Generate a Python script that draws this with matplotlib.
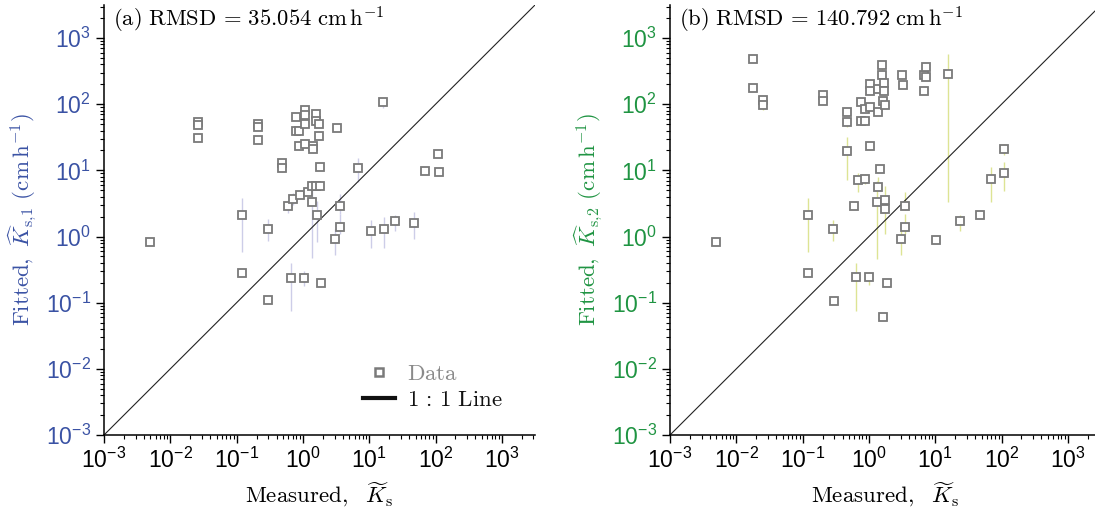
import numpy as np
import matplotlib
matplotlib.use("Agg")
import matplotlib.pyplot as plt
from matplotlib.ticker import FixedLocator, LogLocator, FuncFormatter, NullFormatter
from matplotlib.lines import Line2D

# ---------------- data: panel (a) ----------------
measured_a = [0.0049, 0.026, 0.026, 0.026, 0.121, 0.121, 0.207, 0.207, 0.207, 0.30,
              0.30, 0.49, 0.49, 0.60, 0.66, 0.70, 0.78, 0.78, 0.88, 0.88,
              0.90, 1.03, 1.07, 1.07, 1.07, 1.07, 1.20, 1.35, 1.35, 1.40,
              1.40, 1.57, 1.57, 1.57, 1.64, 1.76, 1.76, 1.80, 1.80, 1.89,
              3.07, 3.29, 3.61, 3.61, 6.8, 10.7, 15.9, 16.8, 24.4, 47.7,
              70.0, 110.0, 111.0]
fitted_a = [0.83, 54, 48, 31, 2.15, 0.285, 50, 46, 28.6, 1.32,
            0.11, 12.9, 10.9, 2.9, 0.24, 3.7, 65, 39, 39, 23,
            4.3, 0.24, 83, 68, 51, 25, 4.7, 5.9, 3.35, 23.6,
            21.4, 72, 56, 5.9, 2.1, 51, 33, 11.1, 5.9, 0.20,
            0.91, 44, 2.9, 1.40, 10.7, 1.22, 107, 1.32, 1.70, 1.59,
            9.9, 17.7, 9.3]
lower_a = [0.80, 50, 45, 29, 0.59, 0.27, 47, 43, 27, 0.85,
           0.105, 11, 9.5, 2.3, 0.076, 3.0, 60, 36, 36, 20,
           3.8, 0.18, 76, 63, 47, 23, 4.2, 5.2, 0.48, 20,
           18, 66, 52, 5.4, 0.83, 47, 30, 10, 5.3, 0.19,
           0.52, 41, 2.2, 1.11, 6.7, 0.68, 87, 0.68, 1.20, 0.91,
           9.3, 16.5, 8.7]
upper_a = [0.87, 58, 51, 33, 3.8, 0.30, 53, 49, 30, 1.81,
           0.115, 15, 12.5, 3.6, 0.40, 4.6, 70, 42, 42, 27,
           4.9, 0.30, 90, 74, 55, 27, 5.3, 6.6, 6.7, 28,
           24, 78, 61, 6.4, 3.4, 55, 36, 12.3, 6.5, 0.21,
           1.32, 47, 4.4, 2.2, 15.6, 1.77, 126, 1.94, 2.15, 2.31,
           10.5, 19, 10]

# ---------------- data: panel (b) ----------------
measured_b = [0.0049, 0.0176, 0.0176, 0.0255, 0.0255, 0.120, 0.121, 0.200, 0.200, 0.292,
              0.300, 0.474, 0.474, 0.474, 0.59, 0.643, 0.687, 0.757, 0.757, 0.879,
              0.879, 0.879, 1.035, 1.035, 1.035, 1.035, 1.01, 1.35, 1.33, 1.367,
              1.367, 1.48, 1.555, 1.555, 1.61, 1.61, 1.70, 1.70, 1.74, 1.76,
              1.76, 1.85, 3.04, 3.18, 3.26, 3.53, 3.53, 6.68, 6.68, 7.29,
              7.29, 10.4, 15.7, 23.8, 46.6, 69.2, 109.0, 110.0]
fitted_b = [0.84, 486, 173, 116, 98, 2.15, 0.285, 138, 110, 1.32,
            0.105, 76, 53, 19.4, 2.92, 0.245, 7.1, 107, 55, 85,
            55, 7.5, 205, 159, 92, 23.7, 0.245, 5.6, 3.37, 171,
            76, 10.6, 386, 272, 110, 0.061, 210, 161, 98, 3.57,
            2.57, 0.199, 0.91, 272, 192, 2.85, 1.39, 278, 161, 361,
            255, 0.88, 285, 1.71, 2.08, 7.3, 21.0, 9.2]
lower_b = [0.81, 440, 160, 108, 82, 0.59, 0.27, 130, 103, 0.85,
           0.10, 71, 45, 7.1, 2.75, 0.076, 4.75, 100, 51, 75,
           51, 6.2, 180, 140, 86, 20, 0.183, 5.0, 0.46, 160,
           68, 10, 330, 255, 103, 0.058, 196, 150, 92, 3.0,
           1.11, 0.19, 0.52, 240, 180, 2.5, 1.11, 260, 150, 320,
           230, 0.84, 3.36, 1.20, 1.95, 3.36, 17, 4.85]
upper_b = [0.87, 530, 186, 124, 118, 3.8, 0.30, 146, 117, 1.77,
           0.11, 81, 62, 31.6, 3.1, 0.40, 9.2, 114, 59, 96,
           59, 8.8, 232, 180, 98, 28, 0.29, 8.0, 6.8, 182,
           85, 11.3, 440, 290, 117, 0.064, 225, 172, 104, 5.85,
           3.0, 0.21, 1.32, 305, 205, 4.64, 2.2, 297, 172, 400,
           280, 0.92, 573, 2.15, 2.2, 11.3, 25, 13.5]

titles = [r"$\mathrm{(a)\ RMSD}\,=\,35.054\ \mathrm{cm\,h^{-1}}$",
          r"$\mathrm{(b)\ RMSD}\,=\,140.792\ \mathrm{cm\,h^{-1}}$"]
ylabels = [r"$\mathrm{Fitted,}\ \widehat{K}_{\mathrm{s},\!1}\ (\mathrm{cm\,h}^{-1})$",
           r"$\mathrm{Fitted,}\ \widehat{K}_{\mathrm{s},\!2}\ (\mathrm{cm\,h}^{-1})$"]
xlabel = r"$\mathrm{Measured,}\ \ \widetilde{K}_\mathrm{s}$"
legend_labels = [r"$\mathrm{Data}$", r"$1\,:\,1\ \mathrm{Line}$"]
major_exps = [-3, -2, -1, 0, 1, 2, 3]

axis_colors = ["#3a52a4", "#1f9442"]
err_colors = ["#cdcde8", "#dde494"]
marker_color = "#7a7a7a"

plt.rcParams["axes.unicode_minus"] = False

fig = plt.figure(figsize=(10.95, 5.13), dpi=100)
ax_a = fig.add_axes([104 / 1095, 78 / 513, 431 / 1095, 430 / 513])
ax_b = fig.add_axes([670 / 1095, 78 / 513, 431 / 1095, 430 / 513])

lo, hi = 1e-3, 10 ** 3.5

def fmt(v, pos):
    e = int(round(np.log10(v)))
    return r"$\mathregular{10^{%d}}$" % e

panels = [(ax_a, measured_a, fitted_a, lower_a, upper_a),
          (ax_b, measured_b, fitted_b, lower_b, upper_b)]

for i, (ax, mx, fy, ly, uy) in enumerate(panels):
    ax.set_xscale("log")
    ax.set_yscale("log")
    ax.set_xlim(lo, hi)
    ax.set_ylim(lo, hi)
    ax.vlines(mx, ly, uy, colors=err_colors[i], linewidth=1.0, zorder=1)
    ax.plot([lo, hi], [lo, hi], color="#222222", linewidth=0.8, zorder=2)
    ax.plot(mx, fy, linestyle="none", marker="s", markersize=5.6,
            markerfacecolor="white", markeredgecolor=marker_color,
            markeredgewidth=1.3, zorder=3)
    for sp in ["top", "right"]:
        ax.spines[sp].set_visible(False)
    for sp in ["left", "bottom"]:
        ax.spines[sp].set_linewidth(1.1)
    majors = [10.0 ** e for e in major_exps]
    for axis in (ax.xaxis, ax.yaxis):
        axis.set_major_locator(FixedLocator(majors))
        axis.set_minor_locator(LogLocator(base=10, subs=np.arange(2, 10), numticks=20))
        axis.set_major_formatter(FuncFormatter(fmt))
        axis.set_minor_formatter(NullFormatter())
    ax.tick_params(which="major", direction="out", length=5.5, width=1.0, pad=4,
                   labelsize=16.5)
    ax.tick_params(which="minor", direction="out", length=3, width=0.8)
    ax.tick_params(axis="y", colors="black", labelcolor=axis_colors[i])
    for lab in ax.get_xticklabels() + ax.get_yticklabels():
        lab.set_family("Liberation Sans")
    ax.set_xlabel(xlabel, fontsize=16.5, math_fontfamily="cm")
    ax.set_ylabel(ylabels[i], fontsize=16.5, color=axis_colors[i], math_fontfamily="cm")
    ax.xaxis.set_label_coords(0.5, -0.105)
    ax.yaxis.set_label_coords(-0.15, 0.5)
    ax.text(0.02, 0.965, titles[i], transform=ax.transAxes, fontsize=16.3,
            ha="left", va="center", math_fontfamily="cm")

handles = [Line2D([], [], linestyle="none", marker="s", markersize=5.6,
                  markerfacecolor="white", markeredgecolor=marker_color,
                  markeredgewidth=1.8),
           Line2D([], [], color="#111111", linewidth=3)]
leg = ax_a.legend(handles, legend_labels,
                  loc="upper left", bbox_to_anchor=(0.58, 0.19), frameon=False,
                  fontsize=16.5, handlelength=1.4, handletextpad=0.5,
                  labelspacing=0.1, borderaxespad=0)
for t, c in zip(leg.get_texts(), ["#8a8a8a", "#111111"]):
    t.set_color(c)
    t.set_math_fontfamily("cm")

fig.savefig("out.png", dpi=100)
